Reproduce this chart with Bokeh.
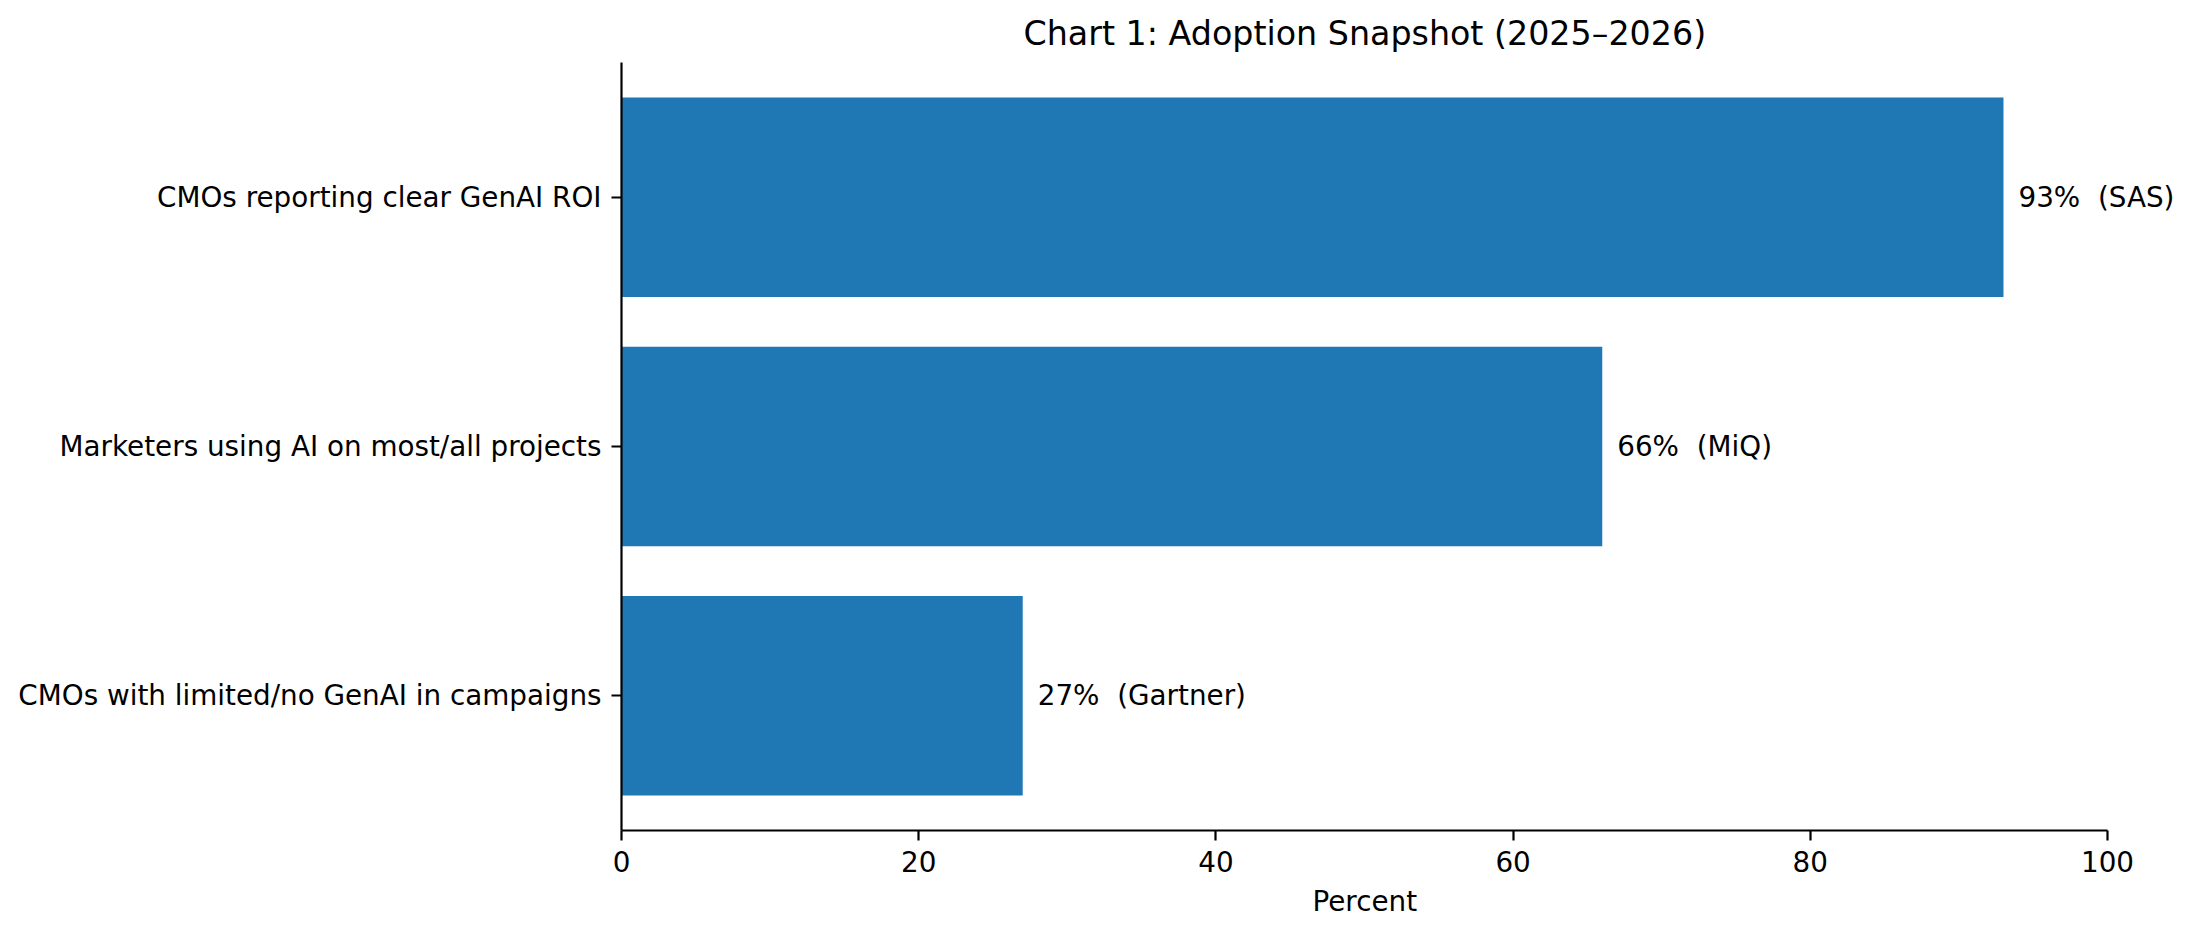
from bokeh.plotting import figure
from bokeh.models import ColumnDataSource, Range1d, FixedTicker, LabelSet, Title
from bokeh.core.properties import value
from bokeh.embed import file_html
from bokeh.resources import INLINE

categories = ["CMOs reporting clear GenAI ROI",
              "Marketers using AI on most/all projects",
              "CMOs with limited/no GenAI in campaigns"]
percents = [93, 66, 27]
sources = ["SAS", "MiQ", "Gartner"]
x_ticks = [0, 20, 40, 60, 80, 100]

n = len(categories)
ypos = [n - 1 - i for i in range(n)]
labels = [f"{v}% \u00a0({s})" for v, s in zip(percents, sources)]

src = ColumnDataSource(dict(y=ypos, v=percents, lab=labels, cat=categories))

FONT = "DejaVu Sans"
FS = "27.8px"

# frame extended to the right so that value labels are not clipped; the axis spine stops at 100
X_END = 100 * (2184 - 621) / (2107 - 621)

p = figure(width=2194, height=938, output_backend="svg", toolbar_location=None,
           x_range=Range1d(0, X_END), y_range=Range1d(-0.54, n - 1 + 0.54),
           min_border_left=621, min_border_right=10, min_border_top=62, min_border_bottom=108)

p.hbar(y="y", right="v", left=0, height=0.8, source=src, fill_color="#1f77b4", line_color=None)
p.add_layout(LabelSet(x="v", y="y", text="lab", source=src, x_offset=15, text_align="left",
                      text_baseline="middle", text_font=value(FONT), text_font_size=value(FS),
                      text_color="black"))

p.title.text = "Chart 1: Adoption Snapshot (2025\u20132026)"
p.title.align = "left"
p.title.offset = 402
p.title.text_font = FONT
p.title.text_font_size = "33.3px"
p.title.text_font_style = "normal"
p.title.text_color = "black"
p.title.standoff = 19

p.outline_line_color = None
p.xgrid.grid_line_color = None
p.ygrid.grid_line_color = None
p.background_fill_color = "white"
p.border_fill_color = "white"

for ax in (p.xaxis[0], p.yaxis[0]):
    ax.axis_line_width = 2.2
    ax.axis_line_color = "black"
    ax.major_tick_line_width = 2.2
    ax.major_tick_line_color = "black"
    ax.major_tick_out = 10
    ax.major_tick_in = 0
    ax.minor_tick_line_color = None
    ax.major_label_text_font = FONT
    ax.major_label_text_font_size = FS
    ax.major_label_text_color = "black"
    ax.major_label_standoff = 10

p.xaxis[0].ticker = FixedTicker(ticks=x_ticks)
p.xaxis[0].bounds = (0, 100)

p.add_layout(Title(text="Percent", align="left", offset=691, text_font=FONT,
                   text_font_size=FS, text_font_style="normal", text_color="black",
                   standoff=17), "below")

p.yaxis[0].ticker = FixedTicker(ticks=ypos)
p.yaxis[0].major_label_overrides = {y: c for y, c in zip(ypos, categories)}

open("out.html", "w").write(file_html(p, INLINE))
